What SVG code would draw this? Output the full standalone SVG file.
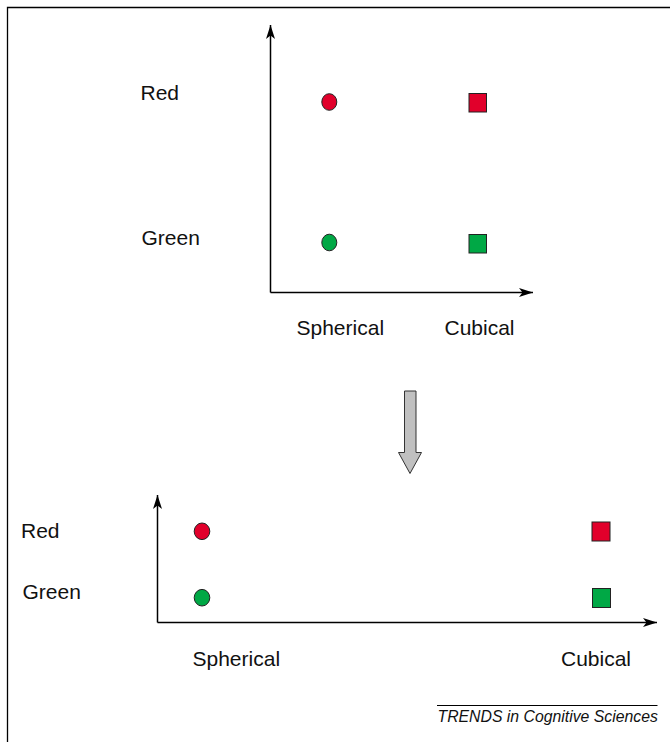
<svg xmlns="http://www.w3.org/2000/svg" width="670" height="742" viewBox="0 0 670 742">
<style>
text{font-family:"Liberation Sans",Arial,sans-serif;font-size:21px;fill:#111}
.axis{stroke:#000;stroke-width:1.5;fill:none}
.red{fill:#E1002B;stroke:#222;stroke-width:1}
.green{fill:#00A845;stroke:#222;stroke-width:1}
.foot{font-style:italic;font-size:15.8px}
</style>
<defs>
<marker id="ah" markerUnits="userSpaceOnUse" markerWidth="16" markerHeight="10" viewBox="0 0 16 10" refX="15" refY="5" orient="auto">
<path d="M1,0.5 L15,5 L1,9.5 L4.5,5 Z" fill="#000"/>
</marker>
</defs>
<rect width="670" height="742" fill="#fff"/>
<path d="M7.5,742 V7.5 H670" fill="none" stroke="#000" stroke-width="1.3"/>
<g id="connectors">
<line class="axis" x1="270.5" y1="292.5" x2="270.5" y2="25" marker-end="url(#ah)"/>
<line class="axis" x1="270.5" y1="292.5" x2="533" y2="292.5" marker-end="url(#ah)"/>
<line class="axis" x1="157.5" y1="622.5" x2="157.5" y2="495" marker-end="url(#ah)"/>
<line class="axis" x1="157.5" y1="622.5" x2="657" y2="622.5" marker-end="url(#ah)"/>
<path id="transform-arrow" d="M404.5,391 H416 V452.5 H421.5 L410,473.5 L398.5,452.5 H404.5 Z" fill="#C0C0C0" stroke="#333" stroke-width="1"/>
</g>
<g id="top-chart">
<text x="140.5" y="99.5">Red</text>
<text x="141.5" y="245">Green</text>
<text x="296.5" y="334.5">Spherical</text>
<text x="444.5" y="334.5">Cubical</text>
<g id="top-red-sphere"><ellipse class="red" cx="329.3" cy="102" rx="7.5" ry="8.3"/></g>
<g id="top-red-cube"><rect class="red" x="469" y="93.5" width="17.5" height="18.5"/></g>
<g id="top-green-sphere"><ellipse class="green" cx="329.3" cy="242.5" rx="7.5" ry="8.3"/></g>
<g id="top-green-cube"><rect class="green" x="469" y="234.5" width="17.5" height="18.5"/></g>
</g>
<g id="bottom-chart">
<text x="21" y="537.5">Red</text>
<text x="22.5" y="598.5">Green</text>
<text x="192.5" y="665.5">Spherical</text>
<text x="561" y="665.5">Cubical</text>
<g id="bottom-red-sphere"><ellipse class="red" cx="202" cy="531.3" rx="7.8" ry="8.3"/></g>
<g id="bottom-red-cube"><rect class="red" x="592" y="522" width="18" height="19"/></g>
<g id="bottom-green-sphere"><ellipse class="green" cx="202" cy="597.7" rx="7.8" ry="8.3"/></g>
<g id="bottom-green-cube"><rect class="green" x="592.5" y="588.5" width="18" height="19"/></g>
</g>
<g id="footer">
<line x1="437" y1="705.5" x2="657.5" y2="705.5" stroke="#000" stroke-width="1"/>
<text class="foot" x="437.5" y="721.5">TRENDS in Cognitive Sciences</text>
</g>
</svg>
